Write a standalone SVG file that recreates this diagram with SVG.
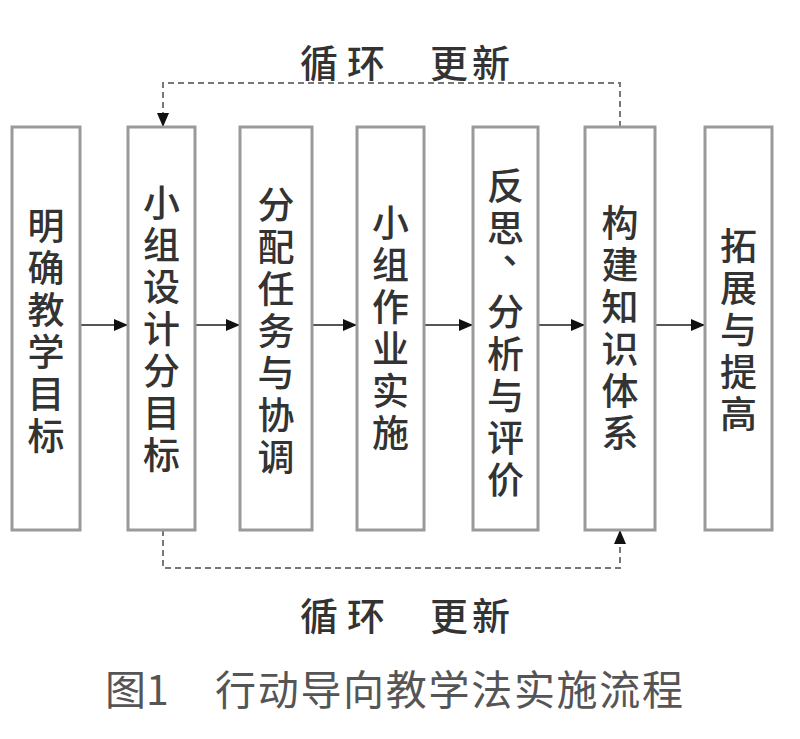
<svg xmlns="http://www.w3.org/2000/svg" width="800" height="739" viewBox="0 0 800 739">
<style>
  .box{fill:#fff;stroke:#9a9a9a;stroke-width:3}
  .lbl{font-family:"Noto Sans CJK SC","Noto Sans CJK TC",sans-serif;font-size:37px;fill:#333;text-anchor:middle;dominant-baseline:central;font-weight:500}
  .flow{stroke:#555;stroke-width:2;fill:none}
  .loop{stroke:#777;stroke-width:2;fill:none;stroke-dasharray:6 4}
  .cap{font-family:"Noto Sans CJK SC",sans-serif;font-size:41px;fill:#555;dominant-baseline:central}
  .cyc{font-family:"Noto Sans CJK SC",sans-serif;font-size:38px;fill:#333;dominant-baseline:central;font-weight:500}
</style>
<defs>
  <marker id="ah" markerUnits="userSpaceOnUse" markerWidth="14" markerHeight="12" refX="13" refY="6" orient="auto">
    <path d="M0,0 L14,6 L0,12 Z" fill="#111"/>
  </marker>
</defs>
<rect width="800" height="739" fill="#fff"/>

<g id="connectors">
  <line class="flow" x1="80" y1="325" x2="127" y2="325" marker-end="url(#ah)"/>
  <line class="flow" x1="195" y1="325" x2="239" y2="325" marker-end="url(#ah)"/>
  <line class="flow" x1="312" y1="325" x2="356" y2="325" marker-end="url(#ah)"/>
  <line class="flow" x1="424" y1="325" x2="472" y2="325" marker-end="url(#ah)"/>
  <line class="flow" x1="538" y1="325" x2="584" y2="325" marker-end="url(#ah)"/>
  <line class="flow" x1="655" y1="325" x2="704" y2="325" marker-end="url(#ah)"/>
  <path class="loop" d="M620,127 V83 H163 V126" marker-end="url(#ah)"/>
  <path class="loop" d="M163,530 V568 H620 V531" marker-end="url(#ah)"/>
</g>

<g id="n1">
  <rect class="box" x="12" y="127" width="68" height="403"/>
  <text class="lbl"><tspan x="46" y="224">明</tspan><tspan x="46" y="266">确</tspan><tspan x="46" y="308">教</tspan><tspan x="46" y="350">学</tspan><tspan x="46" y="392">目</tspan><tspan x="46" y="434">标</tspan></text>
</g>
<g id="n2">
  <rect class="box" x="128" y="127" width="67" height="403"/>
  <text class="lbl"><tspan x="161.5" y="201">小</tspan><tspan x="161.5" y="243">组</tspan><tspan x="161.5" y="285">设</tspan><tspan x="161.5" y="327">计</tspan><tspan x="161.5" y="369">分</tspan><tspan x="161.5" y="411">目</tspan><tspan x="161.5" y="453">标</tspan></text>
</g>
<g id="n3">
  <rect class="box" x="240" y="127" width="72" height="403"/>
  <text class="lbl"><tspan x="276" y="203">分</tspan><tspan x="276" y="245">配</tspan><tspan x="276" y="287">任</tspan><tspan x="276" y="329">务</tspan><tspan x="276" y="371">与</tspan><tspan x="276" y="413">协</tspan><tspan x="276" y="455">调</tspan></text>
</g>
<g id="n4">
  <rect class="box" x="357" y="127" width="67" height="403"/>
  <text class="lbl"><tspan x="390.5" y="221">小</tspan><tspan x="390.5" y="263">组</tspan><tspan x="390.5" y="305">作</tspan><tspan x="390.5" y="347">业</tspan><tspan x="390.5" y="389">实</tspan><tspan x="390.5" y="431">施</tspan></text>
</g>
<g id="n5">
  <rect class="box" x="473" y="127" width="65" height="403"/>
  <text class="lbl"><tspan x="505.5" y="184">反</tspan><tspan x="505.5" y="226">思</tspan><tspan x="521" y="248">、</tspan><tspan x="505.5" y="310">分</tspan><tspan x="505.5" y="352">析</tspan><tspan x="505.5" y="394">与</tspan><tspan x="505.5" y="436">评</tspan><tspan x="505.5" y="478">价</tspan></text>
</g>
<g id="n6">
  <rect class="box" x="585" y="127" width="70" height="403"/>
  <text class="lbl"><tspan x="620" y="221">构</tspan><tspan x="620" y="263">建</tspan><tspan x="620" y="305">知</tspan><tspan x="620" y="347">识</tspan><tspan x="620" y="389">体</tspan><tspan x="620" y="431">系</tspan></text>
</g>
<g id="n7">
  <rect class="box" x="705" y="127" width="67" height="403"/>
  <text class="lbl"><tspan x="738.5" y="244">拓</tspan><tspan x="738.5" y="286">展</tspan><tspan x="738.5" y="328">与</tspan><tspan x="738.5" y="370">提</tspan><tspan x="738.5" y="412">高</tspan></text>
</g>

<g id="labels">
  <text class="cyc" x="300" y="60" textLength="85">循环</text>
  <text class="cyc" x="430" y="60" textLength="80">更新</text>
  <text class="cyc" x="300" y="613" textLength="85">循环</text>
  <text class="cyc" x="430" y="613" textLength="80">更新</text>
  <text class="cap" x="105" y="687">图1</text>
  <text class="cap" x="215" y="687" textLength="468">行动导向教学法实施流程</text>
</g>
</svg>
